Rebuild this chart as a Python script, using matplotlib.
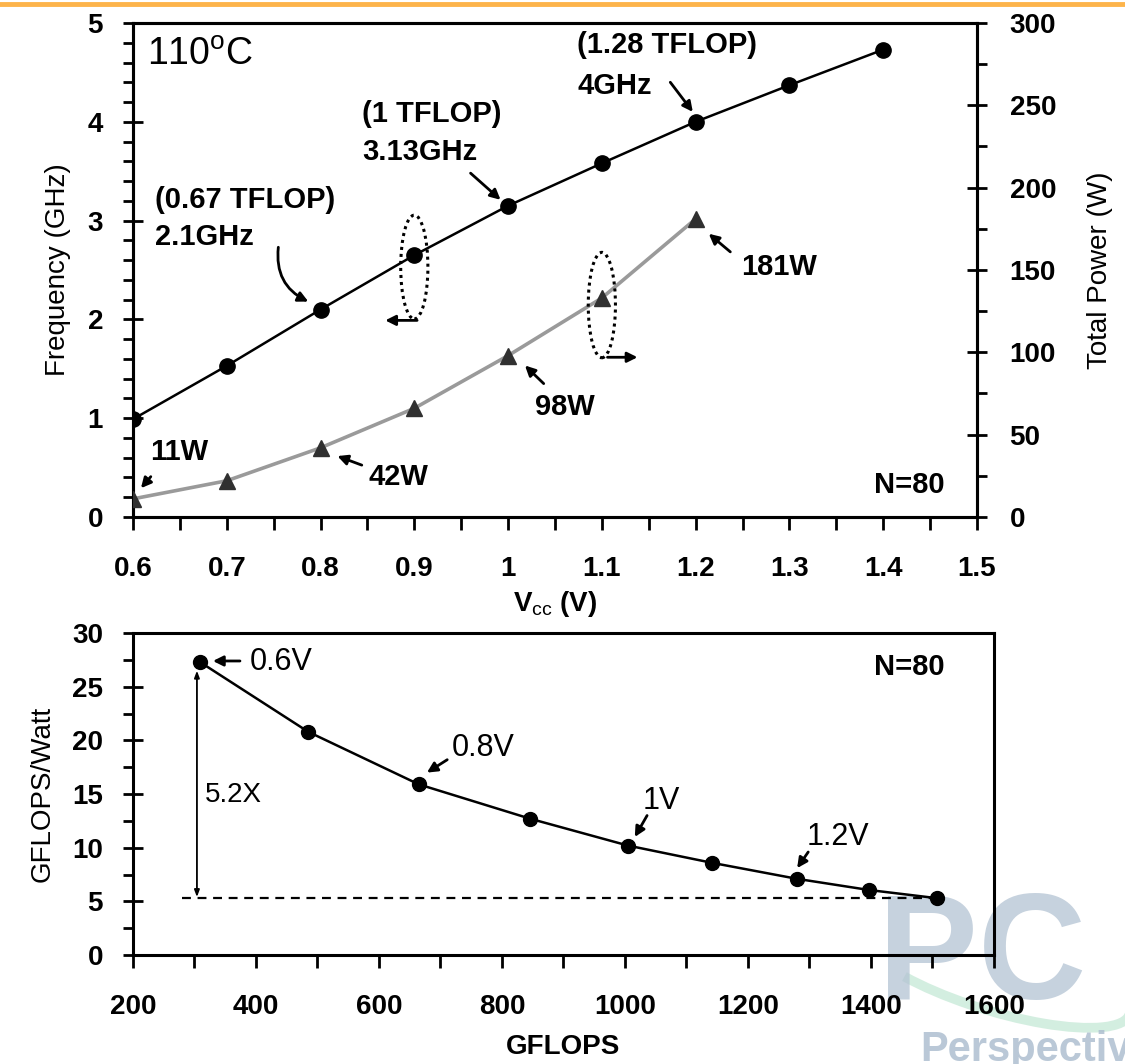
import matplotlib
matplotlib.use("Agg")
import matplotlib.pyplot as plt
from matplotlib.lines import Line2D
from matplotlib.patches import Ellipse, Arc
from matplotlib.ticker import MultipleLocator, FuncFormatter

plt.rcParams["font.family"] = ["Liberation Sans", "DejaVu Sans"]
plt.rcParams["mathtext.fontset"] = "custom"
plt.rcParams["mathtext.rm"] = "Liberation Sans"
plt.rcParams["mathtext.bf"] = "Liberation Sans:bold"

# --- data ---
vcc = [0.6, 0.7, 0.8, 0.9, 1.0, 1.1, 1.2, 1.3, 1.4]
freq_ghz = [0.99, 1.53, 2.10, 2.65, 3.15, 3.58, 4.00, 4.37, 4.73]
vcc_power = [0.6, 0.7, 0.8, 0.9, 1.0, 1.1, 1.2]
power_w = [11, 22, 42, 66, 98, 133, 181]
gflops = [309, 485, 665, 846, 1005, 1141, 1280, 1397, 1507]
gflops_per_watt = [27.3, 20.8, 15.9, 12.7, 10.2, 8.6, 7.1, 6.06, 5.3]

NARROW = ["Liberation Sans Narrow", "Liberation Sans"]
TICK_FS = 20
ANN_FS = 21
LABEL_FS = 20


def style_axis(a):
    a.set_facecolor("none")
    for s in a.spines.values():
        s.set_linewidth(2.2)
    a.tick_params(axis="x", which="both", direction="out", length=9, width=2,
                  labelsize=TICK_FS, pad=19)
    a.tick_params(axis="y", which="major", direction="inout", length=15, width=2,
                  labelsize=TICK_FS, pad=14)
    a.tick_params(axis="y", which="minor", direction="out", length=7, width=2)
    for lab in a.get_xticklabels() + a.get_yticklabels():
        lab.set_fontweight("bold")


def arrow(a, xy, xytext, rad=0.0):
    a.annotate("", xy=xy, xytext=xytext,
               arrowprops=dict(arrowstyle="-|>,head_length=0.6,head_width=0.3",
                               color="black", lw=2,
                               connectionstyle=f"arc3,rad={rad}",
                               shrinkA=0, shrinkB=0))


fig = plt.figure(figsize=(11.25, 10.64), dpi=100)

# watermark first, underneath the axes
fig.add_artist(Arc((0.885, 0.085), 0.25, 0.07, angle=-18, theta1=200, theta2=360,
                   transform=fig.transFigure, color="#c9ead9", lw=7, alpha=0.8,
                   zorder=-2))
fig.text(0.873, 0.098, "PC", fontsize=108, fontweight="bold", color="#b3c3d3",
         ha="center", va="center", alpha=0.75, zorder=-1)
fig.text(0.818, 0.013, "Perspective", fontsize=30, fontweight="bold", color="#aebfd0",
         family=NARROW, ha="left", va="center", alpha=0.85, zorder=-1)

# ---------------- top panel ----------------
ax = fig.add_axes([0.1182, 0.5141, 0.7502, 0.4643])
ax2 = ax.twinx()

ax.plot(vcc, freq_ghz, color="black", lw=1.8, marker="o", ms=11, zorder=3)
ax2.plot(vcc_power, power_w, color="#9a9a9a", lw=2.6, marker="^", ms=11,
         mfc="#303030", mec="#303030", zorder=3)

ax.set_xlim(0.6, 1.5)
ax.set_ylim(0, 5)
ax2.set_ylim(0, 300)
ax.xaxis.set_major_locator(MultipleLocator(0.1))
ax.xaxis.set_minor_locator(MultipleLocator(0.05))
ax.xaxis.set_major_formatter(FuncFormatter(lambda v, p: f"{v:g}"))
ax.yaxis.set_major_locator(MultipleLocator(1))
ax.yaxis.set_minor_locator(MultipleLocator(0.2))
ax2.yaxis.set_major_locator(MultipleLocator(50))
ax2.yaxis.set_minor_locator(MultipleLocator(25))
style_axis(ax)
style_axis(ax2)
ax2.tick_params(axis="y", which="major", pad=16)

ax.set_xlabel(r"V$_{\rm cc}$ (V)", fontsize=20, fontweight="bold", labelpad=5)
ax.set_ylabel("Frequency (GHz)", fontsize=LABEL_FS, family=NARROW, labelpad=12)
ax2.set_ylabel("Total Power (W)", fontsize=LABEL_FS, family=NARROW, labelpad=22)

ax.text(0.017, 0.935, r"110$^{\rm o}$C", transform=ax.transAxes,
        fontsize=27, va="center", ha="left")
ax.text(0.962, 0.065, "N=80", transform=ax.transAxes, fontsize=ANN_FS,
        fontweight="bold", ha="right", va="center")

ax.text(1.074, 4.777, "(1.28 TFLOP)", fontsize=ANN_FS, fontweight="bold", va="center")
ax.text(1.074, 4.362, "4GHz", fontsize=ANN_FS, fontweight="bold", va="center")
arrow(ax, (1.197, 4.10), (1.173, 4.40))

ax.text(0.844, 4.08, "(1 TFLOP)", fontsize=ANN_FS, fontweight="bold", va="center")
ax.text(0.844, 3.694, "3.13GHz", fontsize=ANN_FS, fontweight="bold", va="center")
arrow(ax, (0.992, 3.21), (0.960, 3.48))

ax.text(0.6235, 3.21, "(0.67 TFLOP)", fontsize=ANN_FS, fontweight="bold", va="center")
ax.text(0.6235, 2.834, "2.1GHz", fontsize=ANN_FS, fontweight="bold", va="center")
arrow(ax, (0.787, 2.18), (0.755, 2.73), rad=0.35)

ax2.text(1.248, 152, "181W", fontsize=ANN_FS, fontweight="bold", va="center")
arrow(ax2, (1.214, 172), (1.237, 161))
ax2.text(1.029, 67, "98W", fontsize=ANN_FS, fontweight="bold", va="center")
arrow(ax2, (1.018, 92), (1.038, 81))
ax2.text(0.851, 24, "42W", fontsize=ANN_FS, fontweight="bold", va="center")
arrow(ax2, (0.818, 37), (0.844, 31.5))
ax2.text(0.618, 39.5, "11W", fontsize=ANN_FS, fontweight="bold", va="center")
arrow(ax2, (0.6085, 17.5), (0.619, 24.5))

# axis-indicator ellipses
ax.add_patch(Ellipse((0.9, 2.53), 0.029, 1.05, fill=False, ls=(0, (1, 1.3)),
                     lw=2.2, ec="black", zorder=4))
arrow(ax, (0.869, 1.99), (0.903, 1.99))
ax2.add_patch(Ellipse((1.1, 128.7), 0.029, 64, fill=False, ls=(0, (1, 1.3)),
                      lw=2.2, ec="black", zorder=4))
arrow(ax2, (1.138, 97), (1.106, 97))

# ---------------- bottom panel ----------------
bx = fig.add_axes([0.1182, 0.1024, 0.7653, 0.3026])
bx.plot(gflops, gflops_per_watt, color="black", lw=1.8, marker="o", ms=10, zorder=3)
bx.plot([280, gflops[-1]], [gflops_per_watt[-1]] * 2, color="black", lw=1.6,
        ls=(0, (4, 3)), zorder=2)
bx.annotate("", xy=(304, gflops_per_watt[-1] + 0.1), xytext=(304, gflops_per_watt[0] - 0.8),
            arrowprops=dict(arrowstyle="<|-|>,head_length=0.4,head_width=0.15",
                            color="black", lw=1.3, shrinkA=0, shrinkB=0))

bx.set_xlim(200, 1600)
bx.set_ylim(0, 30)
bx.xaxis.set_major_locator(MultipleLocator(200))
bx.xaxis.set_minor_locator(MultipleLocator(100))
bx.yaxis.set_major_locator(MultipleLocator(5))
bx.yaxis.set_minor_locator(MultipleLocator(2.5))
style_axis(bx)
bx.set_xlabel("GFLOPS", fontsize=20, fontweight="bold", labelpad=10)
bx.set_ylabel("GFLOPS/Watt", fontsize=LABEL_FS, family=NARROW, labelpad=12)

bx.text(0.943, 0.894, "N=80", transform=bx.transAxes, fontsize=ANN_FS,
        fontweight="bold", ha="right", va="center")
bx.text(390, 27.3, "0.6V", fontsize=22, va="center")
arrow(bx, (330, 27.4), (374, 27.4))
bx.text(719, 19.3, "0.8V", fontsize=22, va="center")
arrow(bx, (678, 17.0), (711, 18.2))
bx.text(1029, 14.4, "1V", fontsize=22, va="center")
arrow(bx, (1016, 11.0), (1036, 13.0))
bx.text(1296, 11.0, "1.2V", fontsize=22, va="center")
arrow(bx, (1280, 8.1), (1298, 9.6))
bx.text(317, 14.9, "5.2X", fontsize=20, va="center")

# orange band at the top
fig.add_artist(Line2D([0, 1], [0.9965, 0.9965], transform=fig.transFigure,
                      color="#FDB44B", lw=3.5))

fig.savefig("out.png", dpi=100)
